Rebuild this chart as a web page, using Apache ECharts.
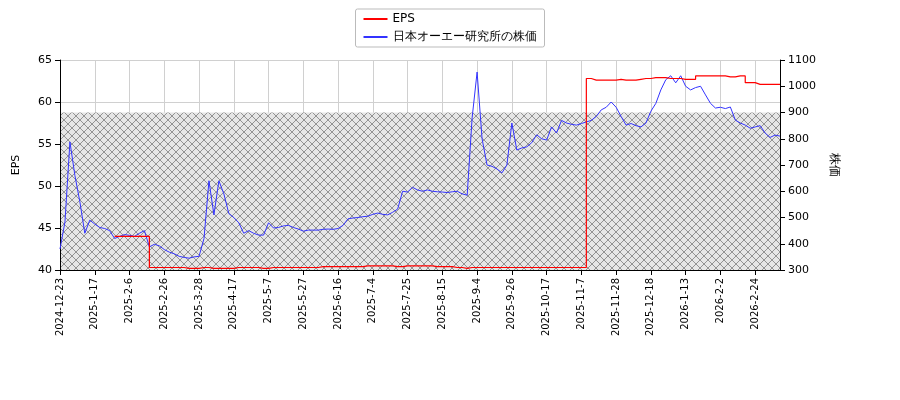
<!DOCTYPE html>
<html><head><meta charset="utf-8">
<script src="https://cdn.jsdelivr.net/npm/echarts@6/dist/echarts.min.js"></script>
<style>html,body{margin:0;background:#fff}#c{width:900px;height:400px}</style></head>
<body><div id="c"></div>
<script>
const tickLabels = ["2024-12-23","2025-1-17","2025-2-6","2025-2-26","2025-3-28","2025-4-17","2025-5-7","2025-5-27","2025-6-16","2025-7-4","2025-7-25","2025-8-15","2025-9-4","2025-9-26","2025-10-17","2025-11-7","2025-11-28","2025-12-18","2026-1-13","2026-2-2","2026-2-24"];
const price = [380,483,788,660,560,440,490,475,462,458,450,420,428,435,432,428,440,450,388,398,392,378,368,362,352,348,345,350,352,420,640,510,640,590,515,500,480,440,450,440,433,433,480,460,462,468,470,462,456,448,452,452,452,455,456,455,458,470,495,498,500,503,505,512,517,512,510,520,532,600,597,615,605,600,605,600,598,597,595,598,600,590,585,880,1054,800,700,695,685,670,700,860,757,765,769,785,815,800,795,845,822,870,860,855,852,858,864,870,885,910,920,940,920,885,852,858,850,845,860,905,935,986,1025,1040,1013,1040,1000,986,995,1000,967,935,917,920,915,921,871,860,852,840,845,850,822,805,814,810];
const eps = [null,null,null,null,null,null,null,null,null,null,null,44,44,44,44,44,44,44,40.3,40.3,40.3,40.3,40.3,40.3,40.3,40.2,40.2,40.2,40.3,40.3,40.2,40.2,40.2,40.2,40.2,40.3,40.3,40.3,40.3,40.3,40.2,40.2,40.3,40.3,40.3,40.3,40.3,40.3,40.3,40.3,40.3,40.3,40.4,40.4,40.4,40.4,40.4,40.4,40.4,40.4,40.4,40.5,40.5,40.5,40.5,40.5,40.5,40.4,40.4,40.5,40.5,40.5,40.5,40.5,40.5,40.4,40.4,40.4,40.4,40.3,40.3,40.2,40.3,40.3,40.3,40.3,40.3,40.3,40.3,40.3,40.3,40.3,40.3,40.3,40.3,40.3,40.3,40.3,40.3,40.3,40.3,40.3,40.3,40.3,40.3,40.3,62.8,62.6,62.6,62.6,62.6,62.6,62.7,62.6,62.6,62.6,62.7,62.8,62.8,62.9,62.9,62.9,62.8,62.8,62.8,62.7,62.7,62.7,63.1,63.1,63.1,63.1,63.1,63.1,63.0,63.0,63.1,63.1,62.3,62.3,62.1,62.1,62.1,62.1,62.1,62.1];
const cats = price.map((_, i) => (i % 7 === 0 ? tickLabels[i / 7] : tickLabels[Math.floor(i / 7)] + "#" + (i % 7)));
const hatchBandPrice = [300, 900];

const cv = document.createElement('canvas'); cv.width = 8; cv.height = 8;
const g = cv.getContext('2d');
g.fillStyle = '#e6e6e6'; g.fillRect(0,0,8,8);
g.strokeStyle = '#6e6e6e'; g.lineWidth = 0.7;
g.beginPath(); g.moveTo(0,0); g.lineTo(8,8); g.moveTo(8,0); g.lineTo(0,8); g.stroke();

const font = 'DejaVu Sans';
const chart = echarts.init(document.getElementById('c'));
chart.setOption({
  animation: false,
  textStyle: {fontFamily: font},
  legend: {top: 9, left: 'center', orient: 'vertical', backgroundColor: '#fff', borderColor: '#bbb', borderWidth: 1, borderRadius: 2,
    padding: [4, 8], itemGap: 6, itemWidth: 24, itemHeight: 2, icon: 'rect', textStyle: {fontSize: 12, color: '#000', fontFamily: font},
    data: ['EPS', '日本オーエー研究所の株価']},
  grid: {left: 60, right: 120, top: 60, bottom: 130},
  xAxis: {type: 'category', data: cats, boundaryGap: false,
    axisLine: {lineStyle: {color: '#000'}}, axisTick: {interval: 6, lineStyle: {color: '#000'}},
    axisLabel: {interval: 6, rotate: 90, fontSize: 10, color: '#000', formatter: v => v.split('#')[0]},
    splitLine: {show: true, interval: 6, lineStyle: {color: '#d0d0d0'}}},
  yAxis: [
    {type: 'value', min: 40, max: 65, interval: 5, name: 'EPS', nameLocation: 'middle', nameGap: 38, nameRotate: 90,
      nameTextStyle: {color: '#000', fontSize: 11},
      axisLine: {show: true, lineStyle: {color: '#000'}}, axisTick: {show: true},
      axisLabel: {color: '#000', fontSize: 11}, splitLine: {lineStyle: {color: '#d0d0d0'}}},
    {type: 'value', min: 300, max: 1100, interval: 100, name: '株価', nameLocation: 'middle', nameGap: 48, nameRotate: -90,
      nameTextStyle: {color: '#000', fontSize: 12},
      axisLine: {show: true, lineStyle: {color: '#000'}}, axisTick: {show: true},
      axisLabel: {color: '#000', fontSize: 11, formatter: v => String(v)}, splitLine: {show: false}}
  ],
  series: [
    {name: 'EPS', type: 'line', data: eps, yAxisIndex: 0, step: 'end', showSymbol: false, z: 3,
      lineStyle: {color: '#ff0000', width: 1.2}, itemStyle: {color: '#ff0000'}},
    {name: '日本オーエー研究所の株価', type: 'line', data: price, yAxisIndex: 1, showSymbol: false, z: 2,
      lineStyle: {color: '#3333ff', width: 1}, itemStyle: {color: '#3333ff'},
      markArea: {silent: true, z: 0, itemStyle: {color: {image: cv, repeat: 'repeat'}},
        data: [[{yAxis: hatchBandPrice[0], x: 60}, {yAxis: hatchBandPrice[1], x: 780}]]}}
  ]
});
</script></body></html>
